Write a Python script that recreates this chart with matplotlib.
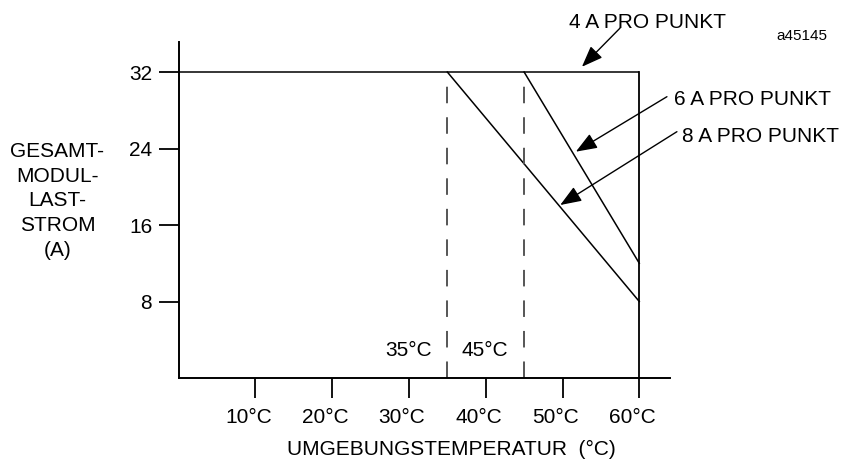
import matplotlib
matplotlib.use("Agg")
import matplotlib.pyplot as plt
import matplotlib.transforms as mtransforms

plt.rcParams['font.family'] = ['Liberation Sans', 'DejaVu Sans']

# Derating data (ambient temperature in °C, total module load current in A)
temp_4a = [0, 60]
current_4a = [32, 32]
temp_6a = [45, 60]
current_6a = [32, 12]
temp_8a = [35, 60]
current_8a = [32, 8]
max_temp = 60
thresholds = [35, 45]
threshold_labels = ["35°C", "45°C"]

x_ticks = [10, 20, 30, 40, 50, 60]
x_tick_labels = ["10°C", "20°C", "30°C", "40°C", "50°C", "60°C"]
y_ticks = [8, 16, 24, 32]
y_tick_labels = ["8", "16", "24", "32"]

series_labels = ["4 A PRO PUNKT", "6 A PRO PUNKT", "8 A PRO PUNKT"]

FS = 15
W, H = 845, 459
fig = plt.figure(figsize=(W / 100, H / 100), dpi=100)
ax = fig.add_axes([178.6 / W, 81 / H, 491.4 / W, 336 / H])
ax.set_xlim(0, 64)
ax.set_ylim(0, 35.14)

lw_line = 1.1
ax.plot(temp_4a, current_4a, color='black', lw=lw_line, solid_capstyle='butt')
ax.plot([max_temp, max_temp], [0, current_4a[-1]], color='black', lw=1.3)
ax.plot(temp_6a, current_6a, color='black', lw=lw_line)
ax.plot(temp_8a, current_8a, color='black', lw=lw_line)

for t in thresholds:
    ax.plot([t, t], [0, 31.0], color='#555555', lw=1.4, dashes=(8.5, 7.2))

ax.text(33.0, 2.9, threshold_labels[0], ha='right', va='center', fontsize=FS)
ax.text(36.9, 2.9, threshold_labels[1], ha='left', va='center', fontsize=FS)

for s in ['top', 'right']:
    ax.spines[s].set_visible(False)
for s in ['left', 'bottom']:
    ax.spines[s].set_linewidth(1.4)

ax.set_xticks(x_ticks)
ax.set_xticklabels(x_tick_labels, fontsize=FS)
ax.set_yticks(y_ticks)
ax.set_yticklabels(y_tick_labels, fontsize=FS)
ax.tick_params(axis='x', direction='out', length=14.5, width=1.3, pad=7)
ax.tick_params(axis='y', direction='out', length=14.5, width=1.3, pad=4.5)
shift = mtransforms.ScaledTranslation(-7 / 100, 0, fig.dpi_scale_trans)
for lbl in ax.get_xticklabels():
    lbl.set_transform(lbl.get_transform() + shift)

ax.set_xlabel("UMGEBUNGSTEMPERATUR  (°C)", fontsize=FS)
ax.xaxis.set_label_coords(0.556, -0.1845)

fig.text(57.5 / W, 1 - 201 / H, "GESAMT-\nMODUL-\nLAST-\nSTROM\n(A)",
         ha='center', va='center', multialignment='center', fontsize=FS,
         linespacing=1.39)

arrow_kw = dict(arrowstyle='-|>,head_length=13,head_width=5', color='black',
                lw=1.0, shrinkA=0, shrinkB=0, mutation_scale=1)

# 4 A label and arrow
ax.annotate('', xy=(52.53, 32.55), xytext=(57.5, 36.6),
            arrowprops=arrow_kw, annotation_clip=False)
ax.text(61.04, 37.18, series_labels[0], ha='center', va='center',
        fontsize=FS, clip_on=False)

# 6 A label and arrow
ax.annotate('', xy=(51.74, 23.67), xytext=(63.6, 29.42),
            arrowprops=arrow_kw, annotation_clip=False)
ax.text(64.57, 29.12, series_labels[1], ha='left', va='center',
        fontsize=FS, clip_on=False)

# 8 A label and arrow
ax.annotate('', xy=(49.7, 18.09), xytext=(64.9, 25.76),
            arrowprops=arrow_kw, annotation_clip=False)
ax.text(65.56, 25.3, series_labels[2], ha='left', va='center',
        fontsize=FS, clip_on=False)

fig.text(776 / W, 1 - 36 / H, "a45145", ha='left', va='center', fontsize=11)

fig.savefig("out.png", dpi=100)
